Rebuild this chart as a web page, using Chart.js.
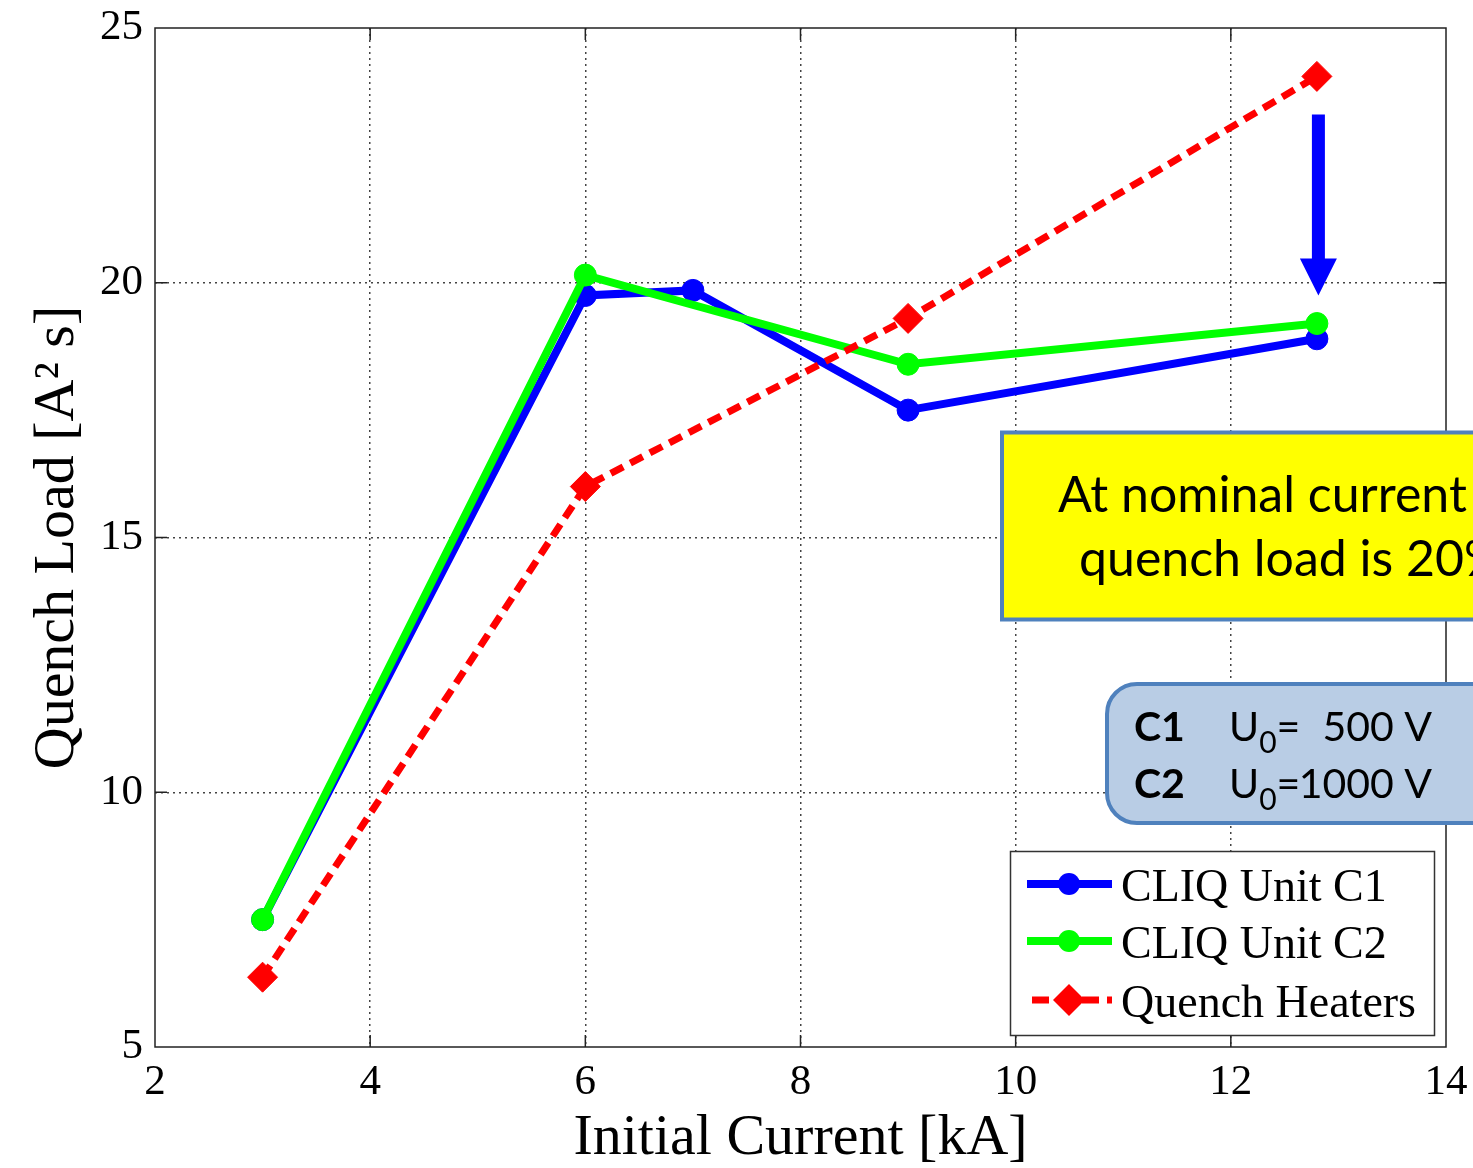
<!DOCTYPE html>
<html>
<head>
<meta charset="utf-8">
<script src="https://cdn.jsdelivr.net/npm/chart.js@4.4.1/dist/chart.umd.min.js"></script>
<style>
  html, body { margin: 0; padding: 0; background: #fff; overflow: hidden; }
  canvas { display: block; }
</style>
</head>
<body>
<canvas id="chart" width="1473" height="1168"></canvas>
<script>
// Quench load versus initial current for the two CLIQ units and the quench heaters
const currentC1 = [3, 6, 7, 9, 12.8];
const loadC1    = [7.5, 19.75, 19.85, 17.5, 18.9];
const currentC2 = [3, 6, 9, 12.8];
const loadC2    = [7.5, 20.15, 18.4, 19.2];
const currentQH = [3, 6, 9, 12.8];
const loadQH    = [6.37, 16.0, 19.3, 24.05];

const xTicks = [2, 4, 6, 8, 10, 12, 14];
const yTicks = [5, 10, 15, 20, 25];

const seriesNames = ['CLIQ Unit C1', 'CLIQ Unit C2', 'Quench Heaters'];
const xTitle = 'Initial Current [kA]';
const yTitle = 'Quench Load [A\u00B2 s]';

const noteLines = ['At nominal current', 'quench load is 20%'];
const unitNames = ['C1', 'C2'];
const unitVoltages = ['500 V', '1000 V'];

// arrow from the heater value down to the CLIQ value at nominal current
const arrowCurrent = 12.8;
const arrowFrom = 23.3;
const arrowTo = 19.75;

const SERIF = '"Liberation Serif", "Times New Roman", serif';
const SANS = 'Lato, "Open Sans", sans-serif';

function pts(xs, ys) { return xs.map((x, i) => ({ x: x, y: ys[i] })); }

// keep the plot frame at a fixed place: no extra room for overhanging tick labels
function fixScalePadding(s) {
  s.paddingTop = 0; s.paddingBottom = 0; s.paddingLeft = 0; s.paddingRight = 0;
}

const overlay = {
  id: 'overlay',
  beforeDatasetsDraw(chart) {
    const { ctx, chartArea: a, scales } = chart;
    ctx.save();
    // axes frame
    ctx.strokeStyle = '#222';
    ctx.lineWidth = 1.5;
    ctx.strokeRect(a.left, a.top, a.right - a.left, a.bottom - a.top);
    // inward tick marks on all four sides
    const L = 12;
    ctx.beginPath();
    xTicks.slice(1, -1).forEach(v => {
      const px = scales.x.getPixelForValue(v);
      ctx.moveTo(px, a.bottom); ctx.lineTo(px, a.bottom - L);
      ctx.moveTo(px, a.top); ctx.lineTo(px, a.top + L);
    });
    yTicks.slice(1, -1).forEach(v => {
      const py = scales.y.getPixelForValue(v);
      ctx.moveTo(a.left, py); ctx.lineTo(a.left + L, py);
      ctx.moveTo(a.right, py); ctx.lineTo(a.right - L, py);
    });
    ctx.stroke();
    ctx.restore();
  },
  afterDraw(chart) {
    const { ctx, scales } = chart;
    ctx.save();

    // legend
    const lx = 1010.5, ly = 851.5, lw = 424, lh = 184;
    ctx.fillStyle = '#fff';
    ctx.fillRect(lx, ly, lw, lh);
    ctx.strokeStyle = '#333';
    ctx.lineWidth = 1.5;
    ctx.strokeRect(lx, ly, lw, lh);
    const rowY = [884, 941, 1000];
    const dsByName = {};
    chart.data.datasets.forEach(d => { dsByName[d.label] = d; });
    seriesNames.forEach((name, i) => {
      const d = dsByName[name];
      const y = rowY[i];
      ctx.save();
      ctx.strokeStyle = d.borderColor;
      ctx.lineWidth = d.borderWidth;
      if (d.borderDash) ctx.setLineDash([17, 8]);
      ctx.beginPath();
      ctx.moveTo(d.borderDash ? 1032 : 1027, y);
      ctx.lineTo(1112, y);
      ctx.stroke();
      ctx.restore();
      ctx.fillStyle = d.borderColor;
      ctx.beginPath();
      if (d.pointStyle === 'rectRot') {
        const r = d.pointRadius + 1;
        ctx.moveTo(1069 - r, y); ctx.lineTo(1069, y - r);
        ctx.lineTo(1069 + r, y); ctx.lineTo(1069, y + r);
        ctx.closePath();
      } else {
        ctx.arc(1069, y, d.pointRadius, 0, Math.PI * 2);
      }
      ctx.fill();
      ctx.fillStyle = '#000';
      ctx.font = '46px ' + SERIF;
      ctx.textBaseline = 'alphabetic';
      ctx.textAlign = 'left';
      ctx.fillText(name, 1121, y + 17);
    });

    // yellow note box
    ctx.fillStyle = '#ffff00';
    ctx.fillRect(1002, 432.5, 520, 187);
    ctx.strokeStyle = '#4f81bd';
    ctx.lineWidth = 4;
    ctx.strokeRect(1002, 432.5, 520, 187);
    ctx.fillStyle = '#000';
    ctx.font = '50px ' + SANS;
    ctx.textAlign = 'left';
    ctx.textBaseline = 'alphabetic';
    ctx.fillText(noteLines[0], 1058, 512);
    ctx.fillText(noteLines[1], 1079, 576);

    // rounded box with the charging voltages
    const bx = 1107, by = 684, bw = 420, bh = 139, br = 30;
    ctx.beginPath();
    ctx.moveTo(bx + br, by);
    ctx.lineTo(bx + bw, by);
    ctx.lineTo(bx + bw, by + bh);
    ctx.lineTo(bx + br, by + bh);
    ctx.arcTo(bx, by + bh, bx, by + bh - br, br);
    ctx.lineTo(bx, by + br);
    ctx.arcTo(bx, by, bx + br, by, br);
    ctx.closePath();
    ctx.fillStyle = '#b9cde5';
    ctx.fill();
    ctx.strokeStyle = '#4f81bd';
    ctx.lineWidth = 4;
    ctx.stroke();
    const baseY = [741, 798];
    unitNames.forEach((u, i) => {
      const y = baseY[i];
      ctx.fillStyle = '#000';
      ctx.textAlign = 'left';
      ctx.font = 'bold 41px ' + SANS;
      ctx.fillText(u, 1134, y);
      ctx.font = '41px ' + SANS;
      ctx.fillText('U', 1229, y);
      const uw = ctx.measureText('U').width;
      ctx.font = '30px ' + SANS;
      ctx.fillText('0', 1229 + uw, y + 12);
      const zw = ctx.measureText('0').width;
      ctx.font = '41px ' + SANS;
      ctx.fillText('=', 1229 + uw + zw, y);
      ctx.textAlign = 'right';
      ctx.fillText(unitVoltages[i], 1432, y);
    });

    // arrow
    const ax = scales.x.getPixelForValue(arrowCurrent) + 1.5;
    const yTop = scales.y.getPixelForValue(arrowFrom);
    const yTip = scales.y.getPixelForValue(arrowTo);
    const headLen = 37, headHalf = 18.5, shaftHalf = 6.5;
    ctx.fillStyle = '#0000ff';
    ctx.beginPath();
    ctx.moveTo(ax - shaftHalf, yTop);
    ctx.lineTo(ax + shaftHalf, yTop);
    ctx.lineTo(ax + shaftHalf, yTip - headLen);
    ctx.lineTo(ax + headHalf, yTip - headLen);
    ctx.lineTo(ax, yTip);
    ctx.lineTo(ax - headHalf, yTip - headLen);
    ctx.lineTo(ax - shaftHalf, yTip - headLen);
    ctx.closePath();
    ctx.fill();

    ctx.restore();
  }
};

const gridColor = ctx => {
  const v = ctx.tick ? ctx.tick.value : null;
  return (v === 2 || v === 14 || v === 5 || v === 25) ? 'rgba(0,0,0,0)' : '#444';
};

new Chart(document.getElementById('chart'), {
  type: 'line',
  data: {
    datasets: [
      {
        label: seriesNames[0], data: pts(currentC1, loadC1),
        borderColor: '#0000ff', backgroundColor: '#0000ff',
        borderWidth: 8, pointRadius: 11, pointStyle: 'circle',
        pointBorderWidth: 1, tension: 0, fill: false, order: 2
      },
      {
        label: seriesNames[1], data: pts(currentC2, loadC2),
        borderColor: '#00ff00', backgroundColor: '#00ff00',
        borderWidth: 8, pointRadius: 11, pointStyle: 'circle',
        pointBorderWidth: 1, tension: 0, fill: false, order: 1
      },
      {
        label: seriesNames[2], data: pts(currentQH, loadQH),
        borderColor: '#ff0000', backgroundColor: '#ff0000',
        borderWidth: 7, borderDash: [14, 8], pointRadius: 15, pointStyle: 'rectRot',
        pointBorderWidth: 1, tension: 0, fill: false, order: 0
      }
    ]
  },
  options: {
    responsive: false,
    animation: false,
    devicePixelRatio: 1,
    events: [],
    layout: { padding: { left: 0, right: 27, top: 28, bottom: 0 } },
    plugins: { legend: { display: false }, tooltip: { enabled: false } },
    scales: {
      x: {
        type: 'linear', min: 2, max: 14,
        afterBuildTicks: s => { s.ticks = xTicks.map(v => ({ value: v })); },
        afterFit: s => { s.height = 121; fixScalePadding(s); },
        ticks: { font: { family: SERIF, size: 43 }, color: '#000', padding: 10, maxRotation: 0 },
        grid: { color: gridColor, lineWidth: 1.5, drawTicks: false },
        border: { display: false, dash: [2, 4] },
        title: {
          display: true, text: xTitle, color: '#000',
          font: { family: SERIF, size: 58, lineHeight: 1 },
          padding: { top: 0, bottom: 0 }
        }
      },
      y: {
        type: 'linear', min: 5, max: 25,
        afterBuildTicks: s => { s.ticks = yTicks.map(v => ({ value: v })); },
        afterFit: s => { s.width = 155; fixScalePadding(s); },
        ticks: { font: { family: SERIF, size: 43 }, color: '#000', padding: 12 },
        grid: { color: gridColor, lineWidth: 1.5, drawTicks: false },
        border: { display: false, dash: [2, 4] },
        title: {
          display: true, text: yTitle, color: '#000',
          font: { family: SERIF, size: 58, lineHeight: 1 },
          padding: { top: 29, bottom: 0 }
        }
      }
    }
  },
  plugins: [overlay]
});
</script>
</body>
</html>
